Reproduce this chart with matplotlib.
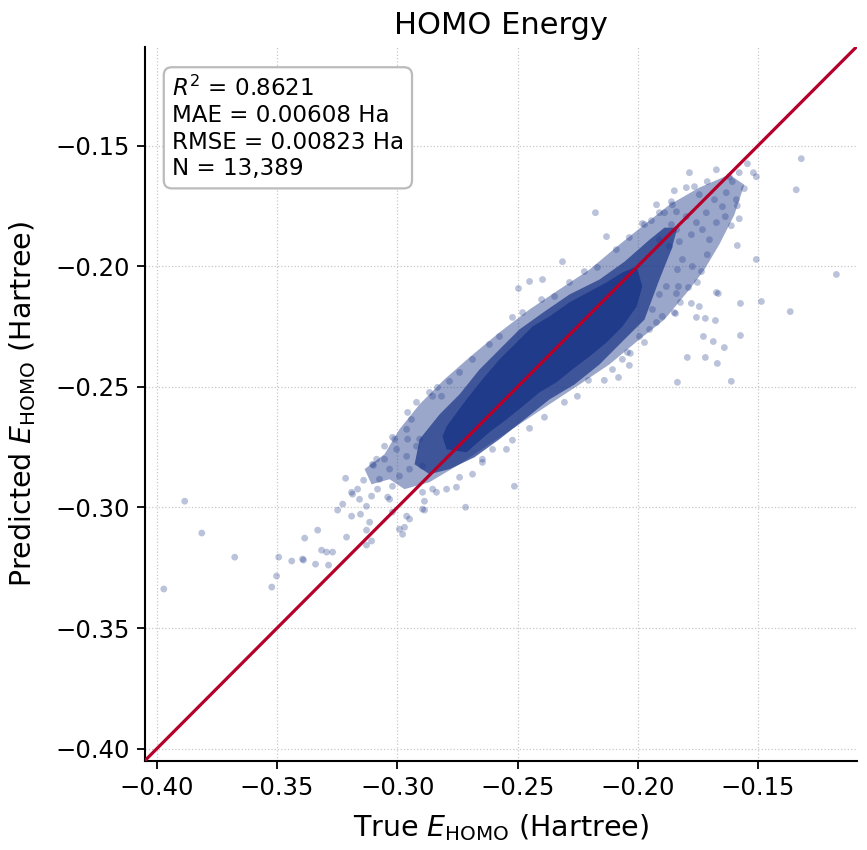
import matplotlib
matplotlib.use("Agg")
import matplotlib.pyplot as plt

# axis range (same for both axes) and summary stats shown in the box
lo, hi = -0.405, -0.109
r2, mae, rmse, n_mol = 0.8621, 0.00608, 0.00823, 13389

# outline of the saturated core of the cloud (true, predicted)
core_x = [-0.2795, -0.2712, -0.2646, -0.2575, -0.2504, -0.2438, -0.2367, -0.2284,
          -0.2201, -0.2130, -0.2064, -0.2005, -0.1981, -0.2005, -0.2064, -0.2130,
          -0.2201, -0.2272, -0.2338, -0.2409, -0.2479, -0.2546, -0.2617, -0.2712,
          -0.2795, -0.2812]
core_y = [-0.2664, -0.2552, -0.2469, -0.2386, -0.2316, -0.2250, -0.2208, -0.2150,
          -0.2105, -0.2067, -0.2026, -0.2001, -0.2084, -0.2167, -0.2250, -0.2316,
          -0.2374, -0.2428, -0.2481, -0.2523, -0.2581, -0.2635, -0.2688, -0.2771,
          -0.2759, -0.2705]

# outline of the dense (almost saturated) band around the core
dense_x = [-0.2907, -0.2824, -0.2741, -0.2658, -0.2575, -0.2492, -0.2388, -0.2284,
           -0.2159, -0.2055, -0.1951, -0.1889, -0.1835, -0.1860, -0.1910, -0.1972,
           -0.2055, -0.2159, -0.2263, -0.2367, -0.2471, -0.2575, -0.2679, -0.2783,
           -0.2866, -0.2928]
dense_y = [-0.2717, -0.2614, -0.2531, -0.2428, -0.2345, -0.2262, -0.2188, -0.2117,
           -0.2055, -0.1981, -0.1890, -0.1840, -0.1840, -0.1931, -0.2055, -0.2221,
           -0.2303, -0.2407, -0.2490, -0.2552, -0.2635, -0.2717, -0.2792, -0.2841,
           -0.2862, -0.2821]

# outline of the medium density halo
halo_x = [-0.3136, -0.3053, -0.2991, -0.2907, -0.2804, -0.2700, -0.2575, -0.2450,
          -0.2326, -0.2201, -0.2076, -0.1972, -0.1868, -0.1744, -0.1619, -0.1557,
          -0.1598, -0.1661, -0.1723, -0.1785, -0.1889, -0.1993, -0.2118, -0.2242,
          -0.2367, -0.2492, -0.2617, -0.2741, -0.2866, -0.2970, -0.3032, -0.3107]
halo_y = [-0.2841, -0.2779, -0.2676, -0.2572, -0.2469, -0.2378, -0.2274, -0.2179,
          -0.2096, -0.2014, -0.1910, -0.1827, -0.1745, -0.1674, -0.1620, -0.1662,
          -0.1786, -0.1910, -0.2014, -0.2096, -0.2221, -0.2303, -0.2407, -0.2490,
          -0.2572, -0.2655, -0.2738, -0.2821, -0.2895, -0.2924, -0.2883, -0.2904]

true_e = [-0.3884, -0.3813, -0.3676, -0.3971, -0.3493, -0.3439, -0.3390, -0.3340,
          -0.3385, -0.3331, -0.3315, -0.3294, -0.3269, -0.3286, -0.3502, -0.3522,
          -0.3394, -0.3248, -0.3211, -0.3215, -0.3140, -0.3128, -0.3128, -0.3107,
          -0.3099, -0.3190, -0.3165, -0.3227, -0.3153, -0.3186, -0.3103, -0.3074,
          -0.3053, -0.3032, -0.3020, -0.2991, -0.2970, -0.2978, -0.2961, -0.3115,
          -0.3128, -0.3032, -0.3020, -0.2941, -0.3011, -0.2961, -0.2895, -0.2716,
          -0.2895, -0.2853, -0.2795, -0.2754, -0.2687, -0.2646, -0.2853, -0.2816,
          -0.1320, -0.1341, -0.1174, -0.1366, -0.1486, -0.1507, -0.1573, -0.1665,
          -0.1677, -0.1719, -0.1744, -0.1777, -0.1843, -0.1823, -0.1573, -0.1727,
          -0.1686, -0.1640, -0.1794, -0.1719, -0.1669, -0.1835, -0.1611, -0.1586,
          -0.1711, -0.1578, -0.1785, -0.1544, -0.1519, -0.1507, -0.1557, -0.1590,
          -0.1586, -0.1611, -0.1636, -0.1735, -0.1752, -0.1789, -0.1831, -0.1839,
          -0.1922, -0.1943, -0.1972, -0.1848, -0.1860, -0.1702, -0.1922, -0.1951,
          -0.1972, -0.1898, -0.1939, -0.1814, -0.1773, -0.2176, -0.2130, -0.1756,
          -0.2139, -0.2080, -0.2105, -0.2035, -0.2064, -0.2031, -0.1993, -0.2205,
          -0.2313, -0.2450, -0.2496, -0.2396, -0.2513, -0.3020, -0.3190, -0.2251,
          -0.2305, -0.2388, -0.2450, -0.2521, -0.2546, -0.2604, -0.2646, -0.2741,
          -0.2837, -0.2887, -0.2887, -0.2949, -0.3040, -0.2783, -0.2741, -0.2687,
          -0.2617, -0.2575, -0.2521, -0.2479, -0.2400, -0.2346, -0.2284, -0.2222,
          -0.2168, -0.2089, -0.2035, -0.1981, -0.1910, -0.1856, -0.2866, -0.2833,
          -0.2920, -0.2957, -0.3053, -0.3086, -0.1910, -0.1881, -0.1835, -0.1673,
          -0.1848, -0.2043, -0.1673, -0.1711, -0.1764, -0.1798, -0.1744, -0.1681,
          -0.1648, -0.1632, -0.1607, -0.1578, -0.1619, -0.1715, -0.1756, -0.1798,
          -0.1839, -0.1777, -0.1731, -0.1673, -0.1827, -0.1868, -0.1910, -0.1889,
          -0.1839, -0.1860, -0.3003, -0.2961, -0.2920, -0.2949, -0.2991, -0.2895,
          -0.2907, -0.2957, -0.3082, -0.3107, -0.3157]
pred_e = [-0.2974, -0.3106, -0.3206, -0.3338, -0.3206, -0.3222, -0.3218, -0.3235,
          -0.3127, -0.3094, -0.3177, -0.3185, -0.3185, -0.3239, -0.3284, -0.3330,
          -0.3214, -0.3011, -0.3123, -0.2879, -0.2887, -0.3094, -0.3156, -0.3139,
          -0.2825, -0.3036, -0.2924, -0.2986, -0.3028, -0.2945, -0.2821, -0.2883,
          -0.2800, -0.2841, -0.2912, -0.3090, -0.3082, -0.3111, -0.3036, -0.3061,
          -0.2995, -0.2966, -0.3019, -0.2635, -0.2717, -0.2676, -0.3007, -0.2999,
          -0.2937, -0.2924, -0.2924, -0.2916, -0.2862, -0.2800, -0.2539, -0.2539,
          -0.1554, -0.1683, -0.2034, -0.2188, -0.2146, -0.1972, -0.2154, -0.2113,
          -0.2225, -0.2216, -0.2167, -0.2154, -0.2196, -0.2150, -0.2287, -0.2291,
          -0.2312, -0.2337, -0.2378, -0.2378, -0.2403, -0.2481, -0.2477, -0.1914,
          -0.1952, -0.1803, -0.1612, -0.1575, -0.1612, -0.1629, -0.1678, -0.1724,
          -0.1749, -0.1832, -0.1794, -0.2022, -0.2067, -0.2088, -0.2084, -0.2113,
          -0.1745, -0.1811, -0.1827, -0.1687, -0.1732, -0.1890, -0.2233, -0.2262,
          -0.2316, -0.2208, -0.2179, -0.1972, -0.2001, -0.1778, -0.1877, -0.2212,
          -0.2473, -0.2461, -0.2428, -0.2411, -0.2386, -0.2361, -0.2291, -0.2473,
          -0.1981, -0.2063, -0.2092, -0.2055, -0.2912, -0.2709, -0.2937, -0.2539,
          -0.2564, -0.2626, -0.2672, -0.2721, -0.2759, -0.2759, -0.2813, -0.2875,
          -0.2937, -0.2974, -0.3011, -0.3048, -0.2957, -0.2477, -0.2440, -0.2386,
          -0.2324, -0.2291, -0.2212, -0.2192, -0.2138, -0.2125, -0.2067, -0.2022,
          -0.2005, -0.1931, -0.1881, -0.1823, -0.1778, -0.1745, -0.2523, -0.2502,
          -0.2564, -0.2606, -0.2746, -0.2800, -0.2117, -0.2084, -0.2014, -0.2109,
          -0.2192, -0.2357, -0.1600, -0.1649, -0.1670, -0.1674, -0.1703, -0.1724,
          -0.1753, -0.1695, -0.1649, -0.1612, -0.1629, -0.1778, -0.1819, -0.1794,
          -0.1848, -0.1869, -0.1848, -0.1819, -0.1898, -0.1918, -0.1890, -0.1778,
          -0.1774, -0.1827, -0.2759, -0.2788, -0.2746, -0.2841, -0.2870, -0.2829,
          -0.2717, -0.2717, -0.2924, -0.2953, -0.2966]

blue = "#1f3a8a"
red = "#b5002a"

fig = plt.figure(figsize=(8.67, 8.5), dpi=100)
ax = fig.add_axes([0.167, 0.105, 0.821, 0.84])

ax.fill(halo_x, halo_y, color=blue, alpha=0.45, lw=0, zorder=2)
ax.fill(dense_x, dense_y, color=blue, alpha=0.75, lw=0, zorder=2)
ax.fill(core_x, core_y, color=blue, alpha=0.95, lw=0, zorder=2)
ax.scatter(true_e, pred_e, s=24, color=blue, alpha=0.3, edgecolors="none", zorder=3)

ax.plot([lo, hi], [lo, hi], color=red, lw=2.3, zorder=4)

ax.set_xlim(lo, hi)
ax.set_ylim(lo, hi)
ticks = [-0.40, -0.35, -0.30, -0.25, -0.20, -0.15]
ax.set_xticks(ticks)
ax.set_yticks(ticks)
ax.grid(True, ls=":", color="#c8c8c8", lw=0.9, zorder=0)
ax.set_axisbelow(True)

for side in ["top", "right"]:
    ax.spines[side].set_visible(False)
for side in ["left", "bottom"]:
    ax.spines[side].set_linewidth(1.5)
ax.tick_params(labelsize=17.5, width=1.3, length=6, pad=5)

ax.set_xlabel(r"True $E_{\mathrm{HOMO}}$ (Hartree)", fontsize=20.5, labelpad=9)
ax.set_ylabel(r"Predicted $E_{\mathrm{HOMO}}$ (Hartree)", fontsize=20.5, labelpad=12)
ax.set_title("HOMO Energy", fontsize=22, pad=9)

txt = (r"$R^2$ = " + f"{r2:.4f}\nMAE = {mae:.5f} Ha\nRMSE = {rmse:.5f} Ha\nN = {n_mol:,}")
ax.text(0.038, 0.96, txt, transform=ax.transAxes, fontsize=16.6, va="top", ha="left",
        linespacing=1.2, zorder=5,
        bbox=dict(boxstyle="round,pad=0.35", fc="white", ec="#bbbbbb", lw=1.6))

fig.savefig("out.png", dpi=100)
